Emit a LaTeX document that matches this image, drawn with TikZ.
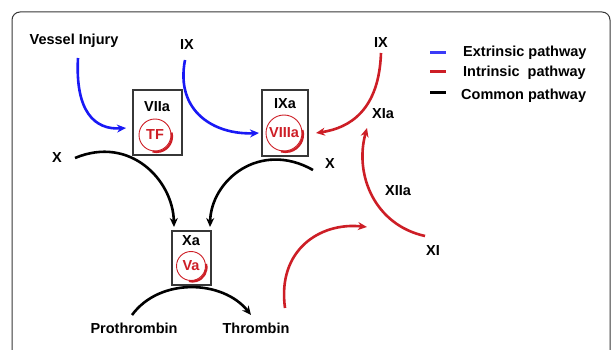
\documentclass[tikz,border=0pt]{standalone}
\usepackage{fontspec}
\setmainfont{Liberation Sans}
\usetikzlibrary{arrows.meta}
\definecolor{extr}{RGB}{25,25,245}
\definecolor{intr}{RGB}{205,30,38}
\definecolor{boxline}{RGB}{55,55,55}
\tikzset{
  lbl/.style={font=\fontsize{14.5}{17}\selectfont\bfseries, inner sep=0pt},
  cplx/.style={draw=boxline, line width=1.1pt, inner sep=0pt},
  cofac/.style={circle, draw=intr, line width=0.9pt, text=intr, inner sep=0pt,
    font=\fontsize{14.5}{17}\selectfont\bfseries},
  shade arc/.style={draw=intr, line width=2.2pt},
  tip/.style={-{Stealth[length=9pt,width=8pt]}},
  extpath/.style={draw=extr, line width=2.6pt, tip},
  intpath/.style={draw=intr, line width=2.6pt, tip},
  compath/.style={draw=black, line width=2.6pt, tip},
  key/.style={line width=3pt},
}
\begin{document}
\begin{tikzpicture}[x=1pt,y=-1pt]
\useasboundingbox (0,0) rectangle (611,350);
% frame
\draw[boxline, line width=1pt, rounded corners=8pt] (12,372) -- (12,12) -- (610,12) -- (610,372);

% complexes
\node[cplx, minimum width=49pt, minimum height=65pt] (viia) at (157.5,122.5) {};
\node[cplx, minimum width=46pt, minimum height=66pt] (ixa) at (285,123) {};
\node[cplx, minimum width=39pt, minimum height=54pt] (xa) at (191.5,258) {};
\node[lbl] (viiat) at (157,107) {VIIa};
\node[lbl] (ixat) at (285,104) {IXa};
\node[lbl] (xat) at (191,241) {Xa};
\node[cofac, minimum size=32pt] (tf) at (155,135) {TF};
\node[cofac, minimum size=36pt] (viiia) at (284,133) {VIIIa};
\node[cofac, minimum size=29pt] (va) at (191,266) {Va};
\draw[shade arc] ([shift={(1.5,1.5)}]tf.center) ++(-15:15.5) arc[start angle=-15, end angle=105, radius=15.5];
\draw[shade arc] ([shift={(1.5,1.5)}]viiia.center) ++(-15:17.5) arc[start angle=-15, end angle=105, radius=17.5];
\draw[shade arc] ([shift={(1.5,1.5)}]va.center) ++(-15:14) arc[start angle=-15, end angle=105, radius=14];

% factor labels
\node[lbl] (vi) at (74,41) {Vessel Injury};
\node[lbl] (ix1) at (187,45) {IX};
\node[lbl] (ix2) at (381,43) {IX};
\node[lbl] (xl) at (57,158) {X};
\node[lbl] (xr) at (330,164) {X};
\node[lbl] (xia) at (383,114) {XIa};
\node[lbl] (xiia) at (398,191) {XIIa};
\node[lbl] (xi) at (433,251) {XI};
\node[lbl] (pro) at (134,328) {Prothrombin};
\node[lbl] (thr) at (256,328) {Thrombin};

% connector ends
\coordinate (e1s) at (78,58);   \coordinate (e1e) at (126,128);
\coordinate (e2s) at (185,60);  \coordinate (e2e) at (259,133);
\coordinate (i1s) at (381,53);  \coordinate (i1e) at (316,133);
\coordinate (i2s) at (425,236); \coordinate (i2e) at (367,128);
\coordinate (i3s) at (285,308); \coordinate (i3e) at (367,227);
\coordinate (c1s) at (75,158);  \coordinate (c1e) at (174,227);
\coordinate (c2s) at (313,170); \coordinate (c2e) at (210,227);
\coordinate (c3s) at (132,315); \coordinate (c3e) at (251,315);

% extrinsic pathway
\draw[extpath] (e1s) .. controls (75,112) and (95,130) .. (e1e);
\draw[extpath] (e2s) .. controls (175,112) and (215,135) .. (e2e);
% intrinsic pathway
\draw[intpath] (i1s) .. controls (379,110) and (350,128) .. (i1e);
\draw[intpath] (i2s) .. controls (375,225) and (354,175) .. (i2e);
\draw[intpath] (i3s) .. controls (277,250) and (320,222) .. (i3e);
% common pathway
\draw[compath] (c1s) .. controls (130,135) and (173,180) .. (c1e);
\draw[compath] (c2s) .. controls (260,140) and (211,180) .. (c2e);
\draw[compath] (c3s) .. controls (160,277) and (223,280) .. (c3e);

% legend
\coordinate (k1a) at (430,52.5); \coordinate (k1b) at (446,52.5);
\coordinate (k2a) at (430,72);   \coordinate (k2b) at (446,72);
\coordinate (k3a) at (430,92.5); \coordinate (k3b) at (446,92.5);
\draw[key, extr!85!white] (k1a) -- (k1b);
\draw[key, intr] (k2a) -- (k2b);
\draw[key, black] (k3a) -- (k3b);
\node[lbl, anchor=west] (l1) at (463,53) {Extrinsic pathway};
\node[lbl, anchor=west] (l2) at (463,73) {Intrinsic\ \ pathway};
\node[lbl, anchor=west] (l3) at (461,96) {Common pathway};
\end{tikzpicture}
\end{document}
